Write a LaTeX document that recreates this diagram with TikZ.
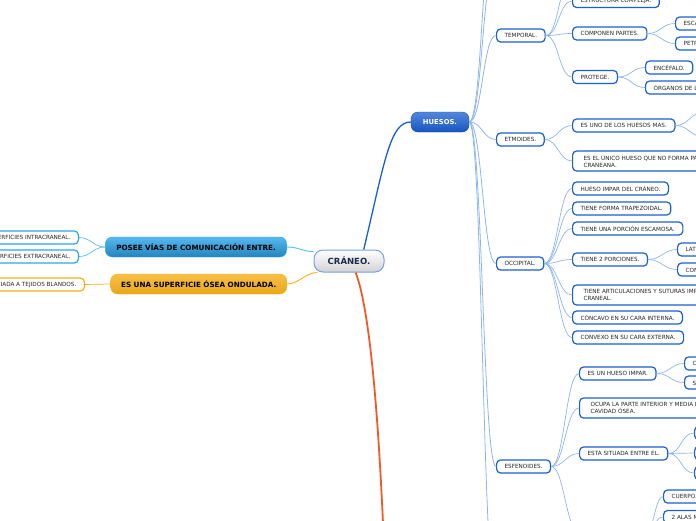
\documentclass[tikz,border=0pt]{standalone}
\usepackage{fontspec}
\setmainfont{DejaVu Sans}
\definecolor{lineaazul}{HTML}{8DB4EE}
\definecolor{hojaazul}{HTML}{1A5FD2}
\definecolor{textogris}{HTML}{262626}
\definecolor{cielo}{HTML}{2BA6EA}
\definecolor{cielolinea}{HTML}{55BDF2}
\definecolor{naranja}{HTML}{F5B01A}
\definecolor{rojo}{HTML}{F05A28}
\definecolor{marino}{HTML}{1B2B4B}
\tikzset{
  hoja/.style={draw=hojaazul, line width=1.2pt, rounded corners=4pt, fill=white,
    font=\fontsize{5.7}{7}\selectfont, text=textogris, inner xsep=8pt, inner ysep=0pt,
    minimum height=13pt, anchor=west},
  hojados/.style={hoja, align=left, inner xsep=11pt, minimum height=20pt},
  hojacielo/.style={hoja, draw=cielo, anchor=east},
  hojanaranja/.style={hoja, draw=naranja, anchor=east},
  rama/.style={rounded corners=7pt, minimum height=20pt, inner ysep=0pt,
    font=\fontsize{7.2}{8}\selectfont\bfseries},
  enlace/.style={draw=lineaazul, line width=0.7pt},
}
\begin{document}
\begin{tikzpicture}[x=1pt,y=-1pt]
\useasboundingbox (0,0) rectangle (696,520);
\clip (0,0) rectangle (696,520);
% centro y ramas principales
\node[draw=hojaazul!60, line width=1pt, rounded corners=9pt, top color=white, bottom color=gray!35,
  minimum width=70pt, minimum height=22pt, text=marino, font=\fontsize{8.5}{9}\selectfont\bfseries] (cra) at (349,261) {CRÁNEO.};
\node[rama, draw=hojaazul!80!black, top color=hojaazul!75, bottom color=hojaazul!90!black, text=white,
  minimum width=58pt, font=\fontsize{6.8}{8}\selectfont\bfseries] (hue) at (440,122) {HUESOS.};
\node[rama, draw=cielo, top color=cielo!80, bottom color=cielo!80!black, anchor=east, inner xsep=11pt] (pos) at (287,247) {POSEE VÍAS DE COMUNICACIÓN ENTRE.};
\node[rama, draw=naranja, top color=naranja!80, bottom color=naranja!95!black, anchor=east, inner xsep=10.5pt] (sup) at (287,284) {ES UNA SUPERFICIE ÓSEA ONDULADA.};
\coordinate (crabajo) at (386,600);
% lado izquierdo
\node[hojacielo] (pos1) at (79,237.5) {SUPERFICIES INTRACRANEAL.};
\node[hojacielo] (pos2) at (79,256.5) {SUPERFICIES EXTRACRANEAL.};
\node[hojanaranja] (sup1) at (85,284.5) {ASOCIADA A TEJIDOS BLANDOS.};
% huesos
\node[hoja] (tem) at (496,35.5) {TEMPORAL.};
\node[hoja] (etm) at (496,139.5) {ETMOIDES.};
\node[hoja] (occ) at (496,263.5) {OCCIPITAL.};
\node[hoja] (esf) at (496,466.5) {ESFENOIDES.};
\coordinate (hue1) at (496,-40);
\coordinate (hue2) at (496,-95);
\coordinate (hue3) at (496,600);
% temporal
\coordinate (tem0) at (572,-22);
\node[hoja] (tem1) at (572,1) {ESTRUCTURA COMPLEJA.};
\node[hoja] (tem2) at (572,33.5) {COMPONEN PARTES.};
\node[hoja] (tem3) at (572,77) {PROTEGE.};
\node[hoja] (tem21) at (675,23.5) {ESCAMOSA.};
\node[hoja] (tem22) at (675,43.5) {PETROSA.};
\node[hoja] (tem31) at (645,67.5) {ENCÉFALO.};
\node[hoja] (tem32) at (645,87.5) {ÓRGANOS DE LOS SENTIDOS.};
% etmoides
\node[hoja] (etm1) at (572,125.5) {ES UNO DE LOS HUESOS MAS.};
\node[hojados] (etm2) at (572,161) {ES EL ÚNICO HUESO QUE NO FORMA PARTE DE LA BÓVEDA\\CRANEANA.};
\coordinate (etm11) at (704,112);
\coordinate (etm12) at (704,137);
% occipital
\node[hoja] (occ1) at (572,188.5) {HUESO IMPAR DEL CRÁNEO.};
\node[hoja] (occ2) at (572,208.5) {TIENE FORMA TRAPEZOIDAL.};
\node[hoja] (occ3) at (572,228.5) {TIENE UNA PORCIÓN ESCAMOSA.};
\node[hoja] (occ4) at (572,259.5) {TIENE 2 PORCIONES.};
\node[hojados] (occ5) at (572,295) {TIENE ARTICULACIONES Y SUTURAS IMPORTANTES EN LA BASE\\CRANEAL.};
\node[hoja] (occ6) at (572,317.5) {CÓNCAVO EN SU CARA INTERNA.};
\node[hoja] (occ7) at (572,337.5) {CONVEXO EN SU CARA EXTERNA.};
\node[hoja] (occ41) at (677,249.5) {LATERALES.};
\node[hoja] (occ42) at (677,269.5) {CONDÍLEAS.};
% esfenoides
\node[hoja] (esf1) at (579,373.5) {ES UN HUESO IMPAR.};
\node[hojados] (esf2) at (579,408) {OCUPA LA PARTE INTERIOR Y MEDIA DE LA BASE DE LA\\CAVIDAD ÓSEA.};
\node[hoja] (esf3) at (579,453.5) {ESTA SITUADA ENTRE EL.};
\coordinate (esf4) at (579,532);
\coordinate (esf4e) at (646,532);
\node[hoja] (esf11) at (684,363.5) {CENTRAL.};
\node[hoja] (esf12) at (684,382.5) {SIMÉTRICO.};
\node[hoja] (esf31) at (694,433) {FRONTAL.};
\node[hoja] (esf32) at (694,453) {ETMOIDES.};
\node[hoja] (esf33) at (694,473) {OCCIPITAL.};
\node[hoja] (esf41) at (663,496.5) {CUERPO.};
\node[hoja] (esf42) at (663,517) {2 ALAS MAYORES.};
% conectores del centro
\draw[hojaazul, line width=1.3pt] (cra.38) .. controls (385,160) and (390,122) .. (hue.west);
\draw[rojo, line width=1.8pt] (cra.-60) .. controls (370,310) and (380,420) .. (crabajo);
\draw[cielolinea, line width=0.9pt] (cra.165) .. controls +(-12,0) and +(12,0) .. (pos.east);
\draw[naranja, line width=0.9pt] (cra.200) .. controls +(-12,0) and +(12,0) .. (sup.east);
\draw[cielolinea, line width=0.7pt] (pos.west) .. controls +(-12,0) and +(12,0) .. (pos1.east);
\draw[cielolinea, line width=0.7pt] (pos.west) .. controls +(-12,0) and +(12,0) .. (pos2.east);
\draw[naranja, line width=0.7pt] (sup.west) .. controls +(-12,0) and +(12,0) .. (sup1.east);
% conectores de huesos
\draw[enlace, line width=0.8pt] (hue.east) .. controls +(13,0) and +(-13,0) .. (hue1);
\draw[enlace, line width=0.8pt] (hue.east) .. controls +(13,0) and +(-13,0) .. (hue2);
\draw[enlace, line width=0.8pt] (hue.east) .. controls +(13,0) and +(-13,0) .. (tem.west);
\draw[enlace, line width=0.8pt] (hue.east) .. controls +(13,0) and +(-13,0) .. (etm.west);
\draw[enlace, line width=0.8pt] (hue.east) .. controls +(13,0) and +(-13,0) .. (occ.west);
\draw[enlace, line width=0.8pt] (hue.east) .. controls +(13,0) and +(-13,0) .. (esf.west);
\draw[enlace, line width=0.8pt] (hue.east) .. controls +(13,0) and +(-13,0) .. (hue3);
% temporal
\draw[enlace] (tem.east) .. controls +(13,0) and +(-13,0) .. (tem0);
\draw[enlace] (tem.east) .. controls +(13,0) and +(-13,0) .. (tem1.west);
\draw[enlace] (tem.east) .. controls +(13,0) and +(-13,0) .. (tem2.west);
\draw[enlace] (tem.east) .. controls +(13,0) and +(-13,0) .. (tem3.west);
\draw[enlace] (tem2.east) .. controls +(13,0) and +(-13,0) .. (tem21.west);
\draw[enlace] (tem2.east) .. controls +(13,0) and +(-13,0) .. (tem22.west);
\draw[enlace] (tem3.east) .. controls +(13,0) and +(-13,0) .. (tem31.west);
\draw[enlace] (tem3.east) .. controls +(13,0) and +(-13,0) .. (tem32.west);
% etmoides
\draw[enlace] (etm.east) .. controls +(13,0) and +(-13,0) .. (etm1.west);
\draw[enlace] (etm.east) .. controls +(13,0) and +(-13,0) .. (etm2.west);
\draw[enlace] (etm1.east) .. controls +(13,0) and +(-13,0) .. (etm11);
\draw[enlace] (etm1.east) .. controls +(13,0) and +(-13,0) .. (etm12);
% occipital
\draw[enlace] (occ.east) .. controls +(13,0) and +(-13,0) .. (occ1.west);
\draw[enlace] (occ.east) .. controls +(13,0) and +(-13,0) .. (occ2.west);
\draw[enlace] (occ.east) .. controls +(13,0) and +(-13,0) .. (occ3.west);
\draw[enlace] (occ.east) .. controls +(13,0) and +(-13,0) .. (occ4.west);
\draw[enlace] (occ.east) .. controls +(13,0) and +(-13,0) .. (occ5.west);
\draw[enlace] (occ.east) .. controls +(13,0) and +(-13,0) .. (occ6.west);
\draw[enlace] (occ.east) .. controls +(13,0) and +(-13,0) .. (occ7.west);
\draw[enlace] (occ4.east) .. controls +(13,0) and +(-13,0) .. (occ41.west);
\draw[enlace] (occ4.east) .. controls +(13,0) and +(-13,0) .. (occ42.west);
% esfenoides
\draw[enlace] (esf.east) .. controls +(13,0) and +(-13,0) .. (esf1.west);
\draw[enlace] (esf.east) .. controls +(13,0) and +(-13,0) .. (esf2.west);
\draw[enlace] (esf.east) .. controls +(13,0) and +(-13,0) .. (esf3.west);
\draw[enlace] (esf.east) .. controls +(13,0) and +(-13,0) .. (esf4);
\draw[enlace] (esf1.east) .. controls +(13,0) and +(-13,0) .. (esf11.west);
\draw[enlace] (esf1.east) .. controls +(13,0) and +(-13,0) .. (esf12.west);
\draw[enlace] (esf3.east) .. controls +(13,0) and +(-13,0) .. (esf31.west);
\draw[enlace] (esf3.east) .. controls +(13,0) and +(-13,0) .. (esf32.west);
\draw[enlace] (esf3.east) .. controls +(13,0) and +(-13,0) .. (esf33.west);
\draw[enlace] (esf4e) .. controls +(8,0) and +(-8,0) .. (esf41.west);
\draw[enlace] (esf4e) .. controls +(8,0) and +(-8,0) .. (esf42.west);
\end{tikzpicture}
\end{document}
